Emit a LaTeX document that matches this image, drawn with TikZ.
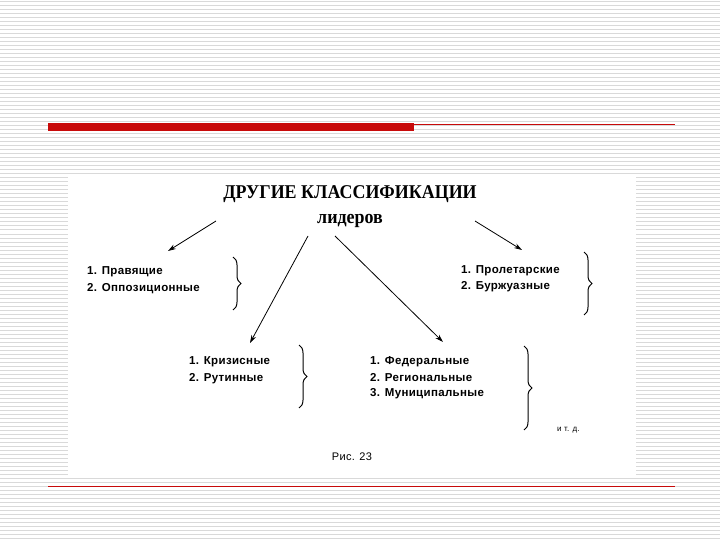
\documentclass[tikz,border=0pt]{standalone}
\usepackage{fontspec}
\setmainfont{Liberation Sans}
\newfontfamily\titlefont{Liberation Serif}
\newfontfamily\itemfont[LetterSpace=3]{Liberation Sans}
\usetikzlibrary{decorations.pathreplacing,arrows.meta}
\definecolor{redbar}{RGB}{200,10,10}
\begin{document}
\begin{tikzpicture}[x=1pt,y=-1pt,
  item/.style={anchor=west,font=\itemfont\fontsize{11.5}{13}\selectfont\bfseries,inner sep=0},
  arr/.style={-{Stealth[length=8pt,width=5pt]},line width=0.8pt},
  brc/.style={decorate,decoration={brace,amplitude=8pt},line width=1pt}]
\useasboundingbox (0,0) rectangle (720,540);
\fill[white] (0,0) rectangle (720,540);
\foreach \y in {2,6,...,538} \draw[gray!30,line width=1pt] (0,\y) -- (720,\y);
\fill[white] (68,175) rectangle (636,478);
\fill[redbar] (48,123) rectangle (414,131);
\draw[redbar,line width=0.8pt] (414,124) -- (675,124);
\draw[redbar,line width=0.8pt] (48,486) -- (675,486);
\node[align=center,font=\titlefont\fontsize{19.5}{25}\selectfont\bfseries,xscale=0.92] (title) at (350,207) {ДРУГИЕ КЛАССИФИКАЦИИ\\лидеров};
\coordinate (s1) at (216,221);
\coordinate (s2) at (475,221);
\coordinate (s3) at (308,236);
\coordinate (s4) at (335,236);
\coordinate (e1) at (168,251);
\coordinate (e2) at (522,250);
\coordinate (e3) at (250,343);
\coordinate (e4) at (443,342);
\draw[arr] (s1) -- (e1);
\draw[arr] (s2) -- (e2);
\draw[arr] (s3) -- (e3);
\draw[arr] (s4) -- (e4);
\node[item] (a1) at (87,272) {1. Правящие};
\node[item] (a2) at (87,289) {2. Оппозиционные};
\node[item] (b1) at (461,271) {1. Пролетарские};
\node[item] (b2) at (461,287) {2. Буржуазные};
\node[item] (c1) at (189,362) {1. Кризисные};
\node[item] (c2) at (189,379) {2. Рутинные};
\node[item] (d1) at (370,362) {1. Федеральные};
\node[item] (d2) at (370,378) {2. Региональные};
\node[item] (d3) at (370,394) {3. Муниципальные};
\draw[brc] (233,257) -- (233,310);
\draw[brc] (584,252) -- (584,315);
\draw[brc] (299,345) -- (299,408);
\draw[brc] (524,346) -- (524,430);
\node[anchor=west,font=\itemfont\fontsize{8}{9}\selectfont,inner sep=0] (etc) at (557,430) {и т. д.};
\node[font=\itemfont\fontsize{11}{12}\selectfont,inner sep=0] (fig) at (352,457) {Рис. 23};
\end{tikzpicture}
\end{document}
